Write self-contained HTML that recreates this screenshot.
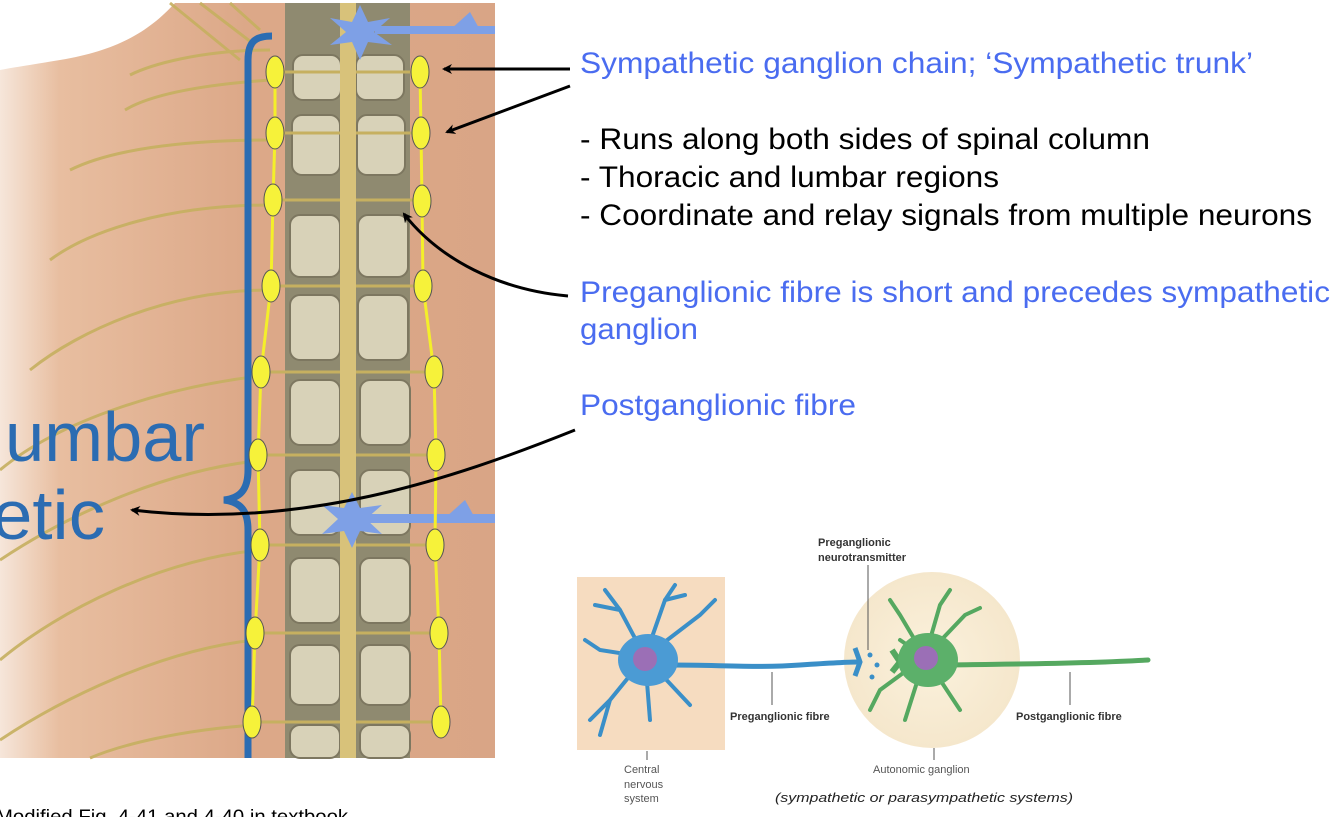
<!DOCTYPE html>
<html><head><meta charset="utf-8"><style>
html,body{margin:0;padding:0;background:#fff;width:1334px;height:817px;overflow:hidden}
svg{display:block}
</style></head><body>
<svg width="1334" height="817" viewBox="0 0 1334 817" xmlns="http://www.w3.org/2000/svg" font-family="Liberation Sans, Arial, sans-serif">
<defs>
<linearGradient id="skin" x1="0" x2="1" y1="0" y2="0">
<stop offset="0" stop-color="#f6e6da"/><stop offset="0.12" stop-color="#e8bea0"/><stop offset="0.5" stop-color="#dca888"/><stop offset="1" stop-color="#d9a586"/></linearGradient>
<radialGradient id="gang" cx="0.5" cy="0.5" r="0.5"><stop offset="0" stop-color="#fbf1dc"/><stop offset="1" stop-color="#f5e7cc"/></radialGradient>
<marker id="ah" markerWidth="10" markerHeight="10" refX="8" refY="5" orient="auto" markerUnits="userSpaceOnUse"><path d="M0,0 L10,5 L0,10 L3,5 z" fill="#000"/></marker>
</defs>
<rect x="0" y="3" width="495" height="755" fill="url(#skin)"/>
<path d="M0,3 L175,3 C150,30 120,50 60,60 C30,65 10,68 0,70 Z" fill="#fff"/>
<g stroke="#c6b060" stroke-width="3" fill="none" opacity="0.9">
<path d="M270,50 C200,50 150,65 130,75"/>
<path d="M270,80 C200,85 150,95 125,110"/>
<path d="M270,140 C180,140 110,150 70,170"/>
<path d="M270,205 C170,205 90,230 50,260"/>
<path d="M270,290 C170,290 80,330 30,370"/>
<path d="M270,375 C170,385 60,420 0,470"/>
<path d="M265,460 C160,470 60,520 0,560"/>
<path d="M260,550 C160,560 60,610 0,660"/>
<path d="M255,640 C160,650 60,700 0,740"/>
<path d="M255,725 C180,730 120,745 90,758"/>
<path d="M170,3 L240,60 M200,3 L255,45 M230,3 L260,30"/>
</g>
<rect x="285" y="3" width="125" height="755" fill="#8f8a70"/>
<g fill="#d8d2b8" stroke="#7d7760" stroke-width="2">
<rect x="293" y="55" width="48" height="45" rx="10"/><rect x="356" y="55" width="48" height="45" rx="10"/>
<rect x="292" y="115" width="48" height="60" rx="10"/><rect x="357" y="115" width="48" height="60" rx="10"/>
<rect x="290" y="215" width="50" height="62" rx="10"/><rect x="358" y="215" width="50" height="62" rx="10"/>
<rect x="290" y="295" width="50" height="65" rx="10"/><rect x="358" y="295" width="50" height="65" rx="10"/>
<rect x="290" y="380" width="50" height="65" rx="10"/><rect x="360" y="380" width="50" height="65" rx="10"/>
<rect x="290" y="470" width="50" height="65" rx="10"/><rect x="360" y="470" width="50" height="65" rx="10"/>
<rect x="290" y="558" width="50" height="65" rx="10"/><rect x="360" y="558" width="50" height="65" rx="10"/>
<rect x="290" y="645" width="50" height="60" rx="10"/><rect x="360" y="645" width="50" height="60" rx="10"/>
<rect x="290" y="725" width="50" height="33" rx="10"/><rect x="360" y="725" width="50" height="33" rx="10"/>
</g>
<g stroke="#c6b060" stroke-width="3">
<path d="M280,72 H415 M280,133 H415 M278,200 H415 M276,286 H418 M266,372 H430 M263,455 H432 M265,545 H430 M260,633 H435 M258,722 H436"/>
</g>
<rect x="340" y="3" width="16" height="755" fill="#d8c27a"/>
<g fill="#7ea0e6">
<polygon points="360,5 368,22 390,18 374,32 392,45 368,42 360,60 352,42 330,45 346,32 330,18 352,22"/>
<rect x="375" y="26" width="120" height="8"/><polygon points="450,30 470,12 480,30"/>
<polygon points="352,492 360,508 382,505 366,519 382,534 360,531 352,548 344,531 322,534 338,519 322,505 344,508"/>
<rect x="365" y="514" width="130" height="9"/><polygon points="445,518 465,500 475,518"/>
</g>
<path d="M272,36 C255,36 248,42 248,60 L248,470 C248,490 240,498 224,500 C240,502 248,510 248,530 L248,758" fill="none" stroke="#2b6cb2" stroke-width="7"/>
<text x="5" y="461" font-size="70" fill="#2b6cb2" textLength="200" lengthAdjust="spacingAndGlyphs">umbar</text>
<text x="-8" y="539" font-size="70" fill="#2b6cb2" textLength="113" lengthAdjust="spacingAndGlyphs">etic</text>
<g stroke="#f4ef2a" stroke-width="3" fill="none">
<polyline points="275,72 275,133 273,200 271,286 261,372 258,455 260,545 255,633 252,722"/>
<polyline points="420,72 421,133 422,201 423,286 434,372 436,455 435,545 439,633 441,722"/>
</g>
<g fill="#f6f23a" stroke="#555" stroke-width="1">
<ellipse cx="275" cy="72" rx="9" ry="16"/><ellipse cx="275" cy="133" rx="9" ry="16"/><ellipse cx="273" cy="200" rx="9" ry="16"/><ellipse cx="271" cy="286" rx="9" ry="16"/><ellipse cx="261" cy="372" rx="9" ry="16"/><ellipse cx="258" cy="455" rx="9" ry="16"/><ellipse cx="260" cy="545" rx="9" ry="16"/><ellipse cx="255" cy="633" rx="9" ry="16"/><ellipse cx="252" cy="722" rx="9" ry="16"/>
<ellipse cx="420" cy="72" rx="9" ry="16"/><ellipse cx="421" cy="133" rx="9" ry="16"/><ellipse cx="422" cy="201" rx="9" ry="16"/><ellipse cx="423" cy="286" rx="9" ry="16"/><ellipse cx="434" cy="372" rx="9" ry="16"/><ellipse cx="436" cy="455" rx="9" ry="16"/><ellipse cx="435" cy="545" rx="9" ry="16"/><ellipse cx="439" cy="633" rx="9" ry="16"/><ellipse cx="441" cy="722" rx="9" ry="16"/>
</g>
<g stroke="#000" stroke-width="3" fill="none" marker-end="url(#ah)">
<path d="M570,69 L444,69"/>
<path d="M570,86 L447,132"/>
<path d="M568,296 C500,290 440,260 404,214"/>
<path d="M575,430 C450,480 300,530 132,510"/>
</g>
<g font-size="30" lengthAdjust="spacingAndGlyphs">
<text x="580" y="73" fill="#4a6cf0" textLength="673" lengthAdjust="spacingAndGlyphs">Sympathetic ganglion chain; ‘Sympathetic trunk’</text>
<text x="580" y="149" fill="#000" textLength="570" lengthAdjust="spacingAndGlyphs">- Runs along both sides of spinal column</text>
<text x="580" y="187" fill="#000" textLength="419" lengthAdjust="spacingAndGlyphs">- Thoracic and lumbar regions</text>
<text x="580" y="225" fill="#000" textLength="732" lengthAdjust="spacingAndGlyphs">- Coordinate and relay signals from multiple neurons</text>
<text x="580" y="302" fill="#4a6cf0" textLength="750" lengthAdjust="spacingAndGlyphs">Preganglionic fibre is short and precedes sympathetic</text>
<text x="580" y="339" fill="#4a6cf0" textLength="118" lengthAdjust="spacingAndGlyphs">ganglion</text>
<text x="580" y="415" fill="#4a6cf0" textLength="276" lengthAdjust="spacingAndGlyphs">Postganglionic fibre</text>
</g>
<text x="-4" y="823" font-size="19" fill="#000" textLength="352" lengthAdjust="spacingAndGlyphs">Modified Fig. 4-41 and 4-40 in textbook</text>
<rect x="577" y="577" width="148" height="173" fill="#f6dcc0"/>
<circle cx="932" cy="660" r="88" fill="url(#gang)"/>
<g stroke="#3a8fc8" stroke-width="4" fill="none" stroke-linecap="round">
<path d="M645,657 L620,610 L605,590 M620,610 L595,605 M645,657 L665,600 L675,585 M665,600 L685,595 M645,657 L700,615 L715,600 M645,657 L600,650 L585,640 M645,657 L610,700 L590,720 M610,700 L600,735 M645,657 L650,720 M645,657 L690,705"/>
<path d="M670,665 C720,665 760,668 800,665 C830,663 845,662 858,662" stroke-width="5"/>
</g>
<ellipse cx="648" cy="660" rx="30" ry="26" fill="#4b9bd4"/>
<ellipse cx="645" cy="659" rx="12" ry="12" fill="#9b6fb6"/>
<path d="M855,648 L860,662 L855,676" stroke="#3a8fc8" stroke-width="5" fill="none"/>
<g fill="#3a8fc8"><circle cx="870" cy="655" r="2.5"/><circle cx="877" cy="665" r="2.5"/><circle cx="872" cy="677" r="2.5"/></g>
<g stroke="#55a860" stroke-width="4" fill="none" stroke-linecap="round">
<path d="M925,657 L900,615 L890,600 M925,657 L940,605 L950,590 M925,657 L965,615 L980,608 M925,657 L880,690 L870,710 M925,657 L905,720 M925,657 L960,710 M925,657 L900,640"/>
<path d="M950,665 C1000,664 1080,664 1148,660" stroke-width="5"/>
</g>
<path d="M892,650 L900,662 L892,672" stroke="#55a860" stroke-width="6" fill="none"/>
<ellipse cx="928" cy="660" rx="30" ry="27" fill="#5cb06a"/>
<ellipse cx="926" cy="658" rx="12" ry="12" fill="#9b6fb6"/>
<g stroke="#555" stroke-width="1">
<line x1="868" y1="565" x2="868" y2="650"/><line x1="772" y1="672" x2="772" y2="705"/><line x1="1070" y1="672" x2="1070" y2="705"/><line x1="647" y1="751" x2="647" y2="760"/><line x1="934" y1="748" x2="934" y2="760"/>
</g>
<g font-size="11" font-weight="bold" fill="#333">
<text x="818" y="546">Preganglionic</text><text x="818" y="561">neurotransmitter</text>
<text x="730" y="720">Preganglionic fibre</text><text x="1016" y="720">Postganglionic fibre</text>
</g>
<g font-size="11" fill="#555">
<text x="624" y="773">Central</text><text x="624" y="788">nervous</text><text x="624" y="802">system</text>
<text x="873" y="773">Autonomic ganglion</text>
</g>
<text x="775" y="802" font-size="13" font-style="italic" fill="#222" textLength="298" lengthAdjust="spacingAndGlyphs">(sympathetic or parasympathetic systems)</text>
</svg>
</body></html>
